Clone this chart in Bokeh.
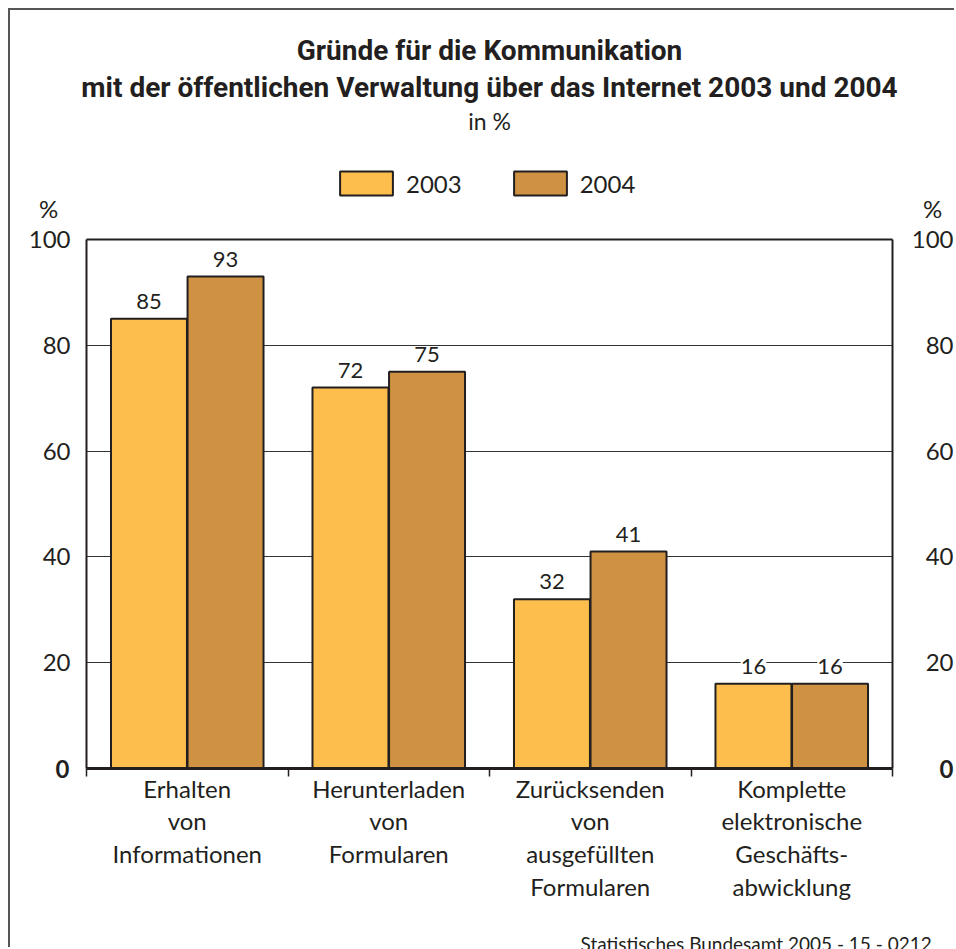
import numpy as np
from bokeh.plotting import figure
from bokeh.models import (Range1d, LinearAxis, FixedTicker, Label, Legend, LegendItem,
                          ColumnDataSource, Grid, LabelSet)
from bokeh.embed import file_html
from bokeh.resources import INLINE
from bokeh.core.properties import value

# ---- data ----
categories = ["Erhalten\nvon\nInformationen",
              "Herunterladen\nvon\nFormularen",
              "Zurücksenden\nvon\nausgefüllten\nFormularen",
              "Komplette\nelektronische\nGeschäfts-\nabwicklung"]
years = ["2003", "2004"]
values_2003 = [85, 72, 32, 16]
values_2004 = [93, 75, 41, 16]
y_ticks = [0, 20, 40, 60, 80, 100]
title_line1 = "Gründe für die Kommunikation"
title_line2 = "mit der öffentlichen Verwaltung über das Internet 2003 und 2004"
subtitle = "in %"
unit_label = "%"
source_note = "Statistisches Bundesamt 2005 - 15 - 0212"

# ---- style ----
C03 = "#FDBE4D"
C04 = "#CE9242"
INK = "#231F20"
FONT = "Lato"
TFONT = "Roboto"

n = len(categories)
ymax = y_ticks[-1]
centers = np.arange(n) + 0.5
off = 0.19
bw = 0.377

W, H = 946, 939
ppx = 806 / n       # px per x unit
ppy = 529 / ymax    # px per y unit
x0 = -(86 - 10) / ppx
y1 = (768 - 10) / ppy

p = figure(width=W, height=H, min_border=0,
           x_range=Range1d(x0, x0 + W / ppx), y_range=Range1d(y1 - H / ppy, y1),
           x_axis_location=None, y_axis_location=None,
           output_backend="svg", toolbar_location=None)
p.margin = (10, 0, 0, 10)
p.styles = {"box-shadow": "-2px -2px 0 0 #555"}
p.background_fill_color = "white"
p.border_fill_color = "white"
p.outline_line_color = None
p.center = [r for r in p.center if not isinstance(r, Grid)]

# grid
grid = Grid(dimension=1, ticker=FixedTicker(ticks=y_ticks[1:-1]), cross_bounds=(0, n),
            grid_line_color="#333333", grid_line_width=1)
p.add_layout(grid)

axis_common = dict(major_tick_out=0, major_tick_in=0, minor_tick_out=0, minor_tick_in=0,
                   axis_line_color=INK)

# left axis
yax = LinearAxis(ticker=FixedTicker(ticks=y_ticks[1:]), fixed_location=0, bounds=(0, ymax),
                 axis_line_width=2,
                 major_label_text_font=FONT, major_label_text_font_size="24px",
                 major_label_text_color=INK, major_label_standoff=16,
                 **axis_common)
p.add_layout(yax, "left")

# right edge
rax = LinearAxis(ticker=FixedTicker(ticks=[]), fixed_location=n, bounds=(0, ymax),
                 axis_line_width=2, major_label_text_color=None, **axis_common)
p.add_layout(rax, "right")

# top edge
tax = LinearAxis(ticker=FixedTicker(ticks=[]), fixed_location=ymax, bounds=(0, n),
                 axis_line_width=2, major_label_text_color=None, **axis_common)
p.add_layout(tax, "above")

# bottom axis
overrides = {float(c): lab for c, lab in zip(centers, categories)}
xax = LinearAxis(ticker=FixedTicker(ticks=list(centers), minor_ticks=list(range(n + 1))),
                 fixed_location=0, bounds=(0, n),
                 major_label_overrides=overrides,
                 major_tick_line_color=None, major_tick_out=0, major_tick_in=0,
                 minor_tick_out=8, minor_tick_in=0, minor_tick_line_color=INK, minor_tick_line_width=1.5,
                 axis_line_width=3, axis_line_color=INK,
                 major_label_text_font=FONT, major_label_text_font_size="24px",
                 major_label_text_color=INK, major_label_standoff=-3,
                 major_label_text_line_height=1.13)
p.add_layout(xax, "below")

# bars
src = ColumnDataSource(dict(x03=centers - off, x04=centers + off,
                            v03=values_2003, v04=values_2004,
                            t03=[str(v) for v in values_2003], t04=[str(v) for v in values_2004]))
r03 = p.vbar(x="x03", top="v03", width=bw, bottom=0, source=src,
             fill_color=C03, line_color=INK, line_width=2)
r04 = p.vbar(x="x04", top="v04", width=bw, bottom=0, source=src,
             fill_color=C04, line_color=INK, line_width=2)

for xs, ts, vs in (("x03", "t03", "v03"), ("x04", "t04", "v04")):
    ls = LabelSet(x=xs, y=vs, text=ts, source=src, text_align="center", text_baseline="bottom",
                  y_offset=10, text_font=value(FONT), text_font_size="22px", text_color=INK,
                  background_fill_color="white")
    p.add_layout(ls)

# legend
legend = Legend(items=[LegendItem(label=years[0], renderers=[r03]),
                       LegendItem(label=years[1], renderers=[r04])],
                orientation="horizontal", location=(323, 751),
                glyph_width=66, glyph_height=30, label_height=30, label_standoff=7, spacing=45,
                padding=0, margin=0, border_line_color=None, background_fill_alpha=0,
                label_text_font=FONT, label_text_font_size="24px", label_text_color=INK)
p.add_layout(legend)

# titles
p.add_layout(Label(x=n / 2, y=ymax + 189 / ppy, text=title_line1, text_align="center",
                   text_baseline="middle", text_font=TFONT, text_font_size="28px",
                   text_font_style="bold", text_color=INK))
p.add_layout(Label(x=n / 2, y=ymax + 152 / ppy, text=title_line2, text_align="center",
                   text_baseline="middle", text_font=TFONT, text_font_size="28px",
                   text_font_style="bold", text_color=INK))
p.add_layout(Label(x=n / 2, y=ymax + 119 / ppy, text=subtitle, text_align="center",
                   text_baseline="middle", text_font=FONT, text_font_size="23px", text_color=INK))

# % labels
p.add_layout(Label(x=-38 / ppx, y=ymax + 31 / ppy, text=unit_label, text_align="center",
                   text_baseline="middle", text_font=FONT, text_font_size="24px", text_color=INK))
p.add_layout(Label(x=n + 40 / ppx, y=ymax + 31 / ppy, text=unit_label, text_align="center",
                   text_baseline="middle", text_font=FONT, text_font_size="24px", text_color=INK))

# bold zero (left) and right tick labels
p.text(x=[-17 / ppx], y=[y_ticks[0]], text=[str(y_ticks[0])], text_align="right",
       text_baseline="middle", text_font=value(FONT), text_font_size="24px",
       text_font_style="bold", text_color=INK)
p.text(x=[n + 61 / ppx] * len(y_ticks), y=y_ticks, text=[str(t) for t in y_ticks],
       text_align="right", text_baseline="middle", text_font=value(FONT), text_font_size="24px",
       text_font_style=["bold" if t == 0 else "normal" for t in y_ticks], text_color=INK)

# source note
p.add_layout(Label(x=(580 - 86) / ppx, y=-(943 - 768) / ppy, text=source_note, text_align="left",
                   text_baseline="alphabetic", text_font=FONT, text_font_size="19px", text_color=INK))

open("out.html", "w").write(file_html(p, INLINE))
